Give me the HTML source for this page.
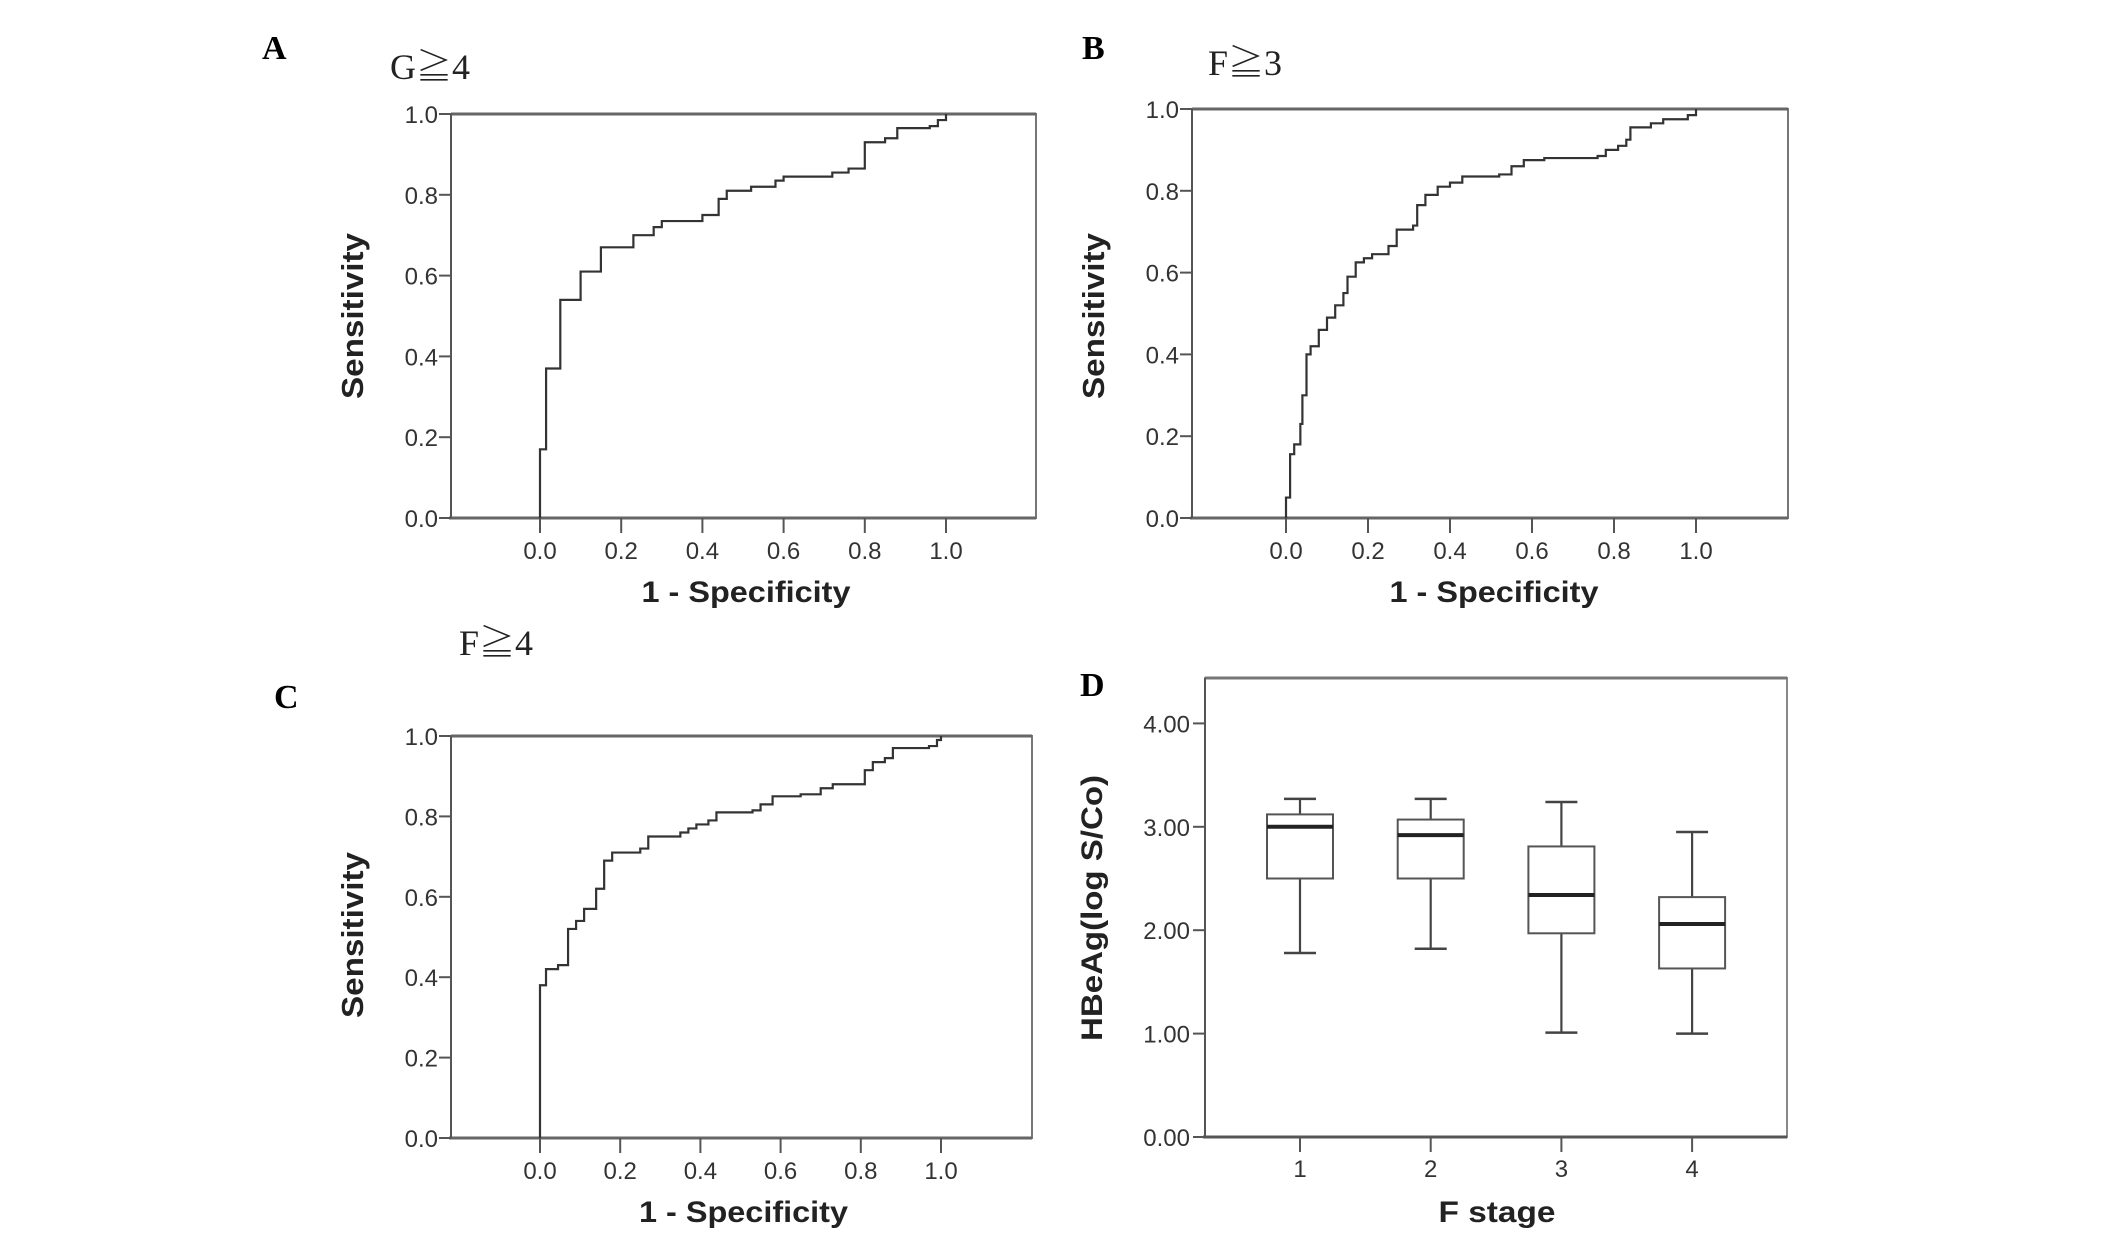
<!DOCTYPE html>
<html><head><meta charset="utf-8">
<style>
html,body{margin:0;padding:0;background:#fff;}
svg{display:block;}
.tk{font-family:"Liberation Sans",sans-serif;font-size:24px;fill:#333;}
.at{font-family:"Liberation Sans",sans-serif;font-weight:bold;fill:#222;}
.pl{font-family:"Liberation Serif",serif;font-weight:bold;font-size:34px;fill:#000;}
.tt{font-family:"Liberation Serif","Noto Serif CJK SC",serif;font-size:36px;fill:#222;}
</style></head>
<body>
<svg id="fig" width="2126" height="1238" viewBox="0 0 2126 1238" xmlns="http://www.w3.org/2000/svg">
<rect width="2126" height="1238" fill="#fff"/>
</svg>
<script>
// ROC data (step vertices: go horizontal to fpr, then vertical to tpr)
const rocA_fpr=[0,0.015,0.05,0.1,0.15,0.23,0.28,0.3,0.4,0.44,0.46,0.52,0.58,0.6,0.72,0.76,0.8,0.8,0.85,0.88,0.96,0.98,1.0];
const rocA_tpr=[0.17,0.37,0.54,0.61,0.67,0.70,0.72,0.735,0.75,0.79,0.81,0.82,0.835,0.845,0.855,0.865,0.88,0.93,0.94,0.965,0.97,0.985,1.0];
const rocB_fpr=[0,0.01,0.02,0.035,0.04,0.05,0.06,0.08,0.1,0.12,0.14,0.15,0.17,0.19,0.21,0.25,0.27,0.31,0.32,0.34,0.37,0.40,0.43,0.52,0.55,0.58,0.63,0.76,0.78,0.81,0.83,0.84,0.89,0.92,0.98,1.0];
const rocB_tpr=[0.05,0.156,0.18,0.23,0.30,0.40,0.42,0.46,0.49,0.52,0.55,0.59,0.625,0.635,0.645,0.665,0.705,0.715,0.765,0.79,0.81,0.82,0.835,0.84,0.86,0.875,0.88,0.885,0.9,0.91,0.925,0.955,0.965,0.975,0.985,1.0];
const rocC_fpr=[0,0.015,0.045,0.07,0.09,0.11,0.14,0.16,0.18,0.25,0.27,0.35,0.37,0.39,0.42,0.44,0.53,0.55,0.58,0.65,0.7,0.73,0.8,0.81,0.83,0.86,0.88,0.97,0.99,1.0];
const rocC_tpr=[0.38,0.42,0.43,0.52,0.54,0.57,0.62,0.69,0.71,0.72,0.75,0.76,0.77,0.78,0.79,0.81,0.815,0.83,0.85,0.855,0.87,0.88,0.88,0.915,0.935,0.945,0.97,0.975,0.99,1.0];
const rocTicks=["0.0","0.2","0.4","0.6","0.8","1.0"];
// Boxplot data (panel D)
const fStages=["1","2","3","4"];
const whiskLow=[1.78,1.82,1.01,1.00];
const q1=[2.50,2.50,1.97,1.63];
const med=[3.00,2.92,2.34,2.06];
const q3=[3.12,3.07,2.81,2.32];
const whiskHigh=[3.27,3.27,3.24,2.95];
const boxTicks=["0.00","1.00","2.00","3.00","4.00"];

const NS="http://www.w3.org/2000/svg";
const svg=document.getElementById('fig');
function mk(tag,attrs,parent){const e=document.createElementNS(NS,tag);for(const k in attrs)e.setAttribute(k,attrs[k]);(parent||svg).appendChild(e);return e;}

function roc(p){
  const g=mk('g',{});
  
  
  const sx=v=>p.x0+(p.x1-p.x0)*v;
  const sy=v=>p.yb+(p.yt-p.yb)*v;
  const fr=mk('rect',{x:p.L,y:p.yt,width:p.R-p.L,height:p.yb-p.yt,fill:'none',stroke:'#777','stroke-width':2},g);
  
  
  mk('line',{x1:p.L,y1:p.yt,x2:p.R,y2:p.yt,stroke:'#666','stroke-width':3},g);
  mk('line',{x1:p.L-2,y1:p.yb,x2:p.R,y2:p.yb,stroke:'#666','stroke-width':3},g);
  mk('line',{x1:p.L,y1:p.yt,x2:p.L,y2:p.yb,stroke:'#555','stroke-width':2},g);
  for(let i=0;i<rocTicks.length;i++){
    const v=i/5;
    mk('line',{x1:p.L-12,y1:sy(v),x2:p.L,y2:sy(v),stroke:'#555','stroke-width':2},g);
    const t=mk('text',{x:p.L-13,y:sy(v)+9,'text-anchor':'end',class:'tk'},g);t.textContent=rocTicks[i];
    
    
    mk('line',{x1:sx(v),y1:p.yb,x2:sx(v),y2:p.yb+15,stroke:'#555','stroke-width':2},g);
    const u=mk('text',{x:sx(v),y:p.yb+41,'text-anchor':'middle',class:'tk'},g);u.textContent=rocTicks[i];
    
    
  }
  let d='M'+sx(0)+','+sy(0);let py=0;
  for(let i=0;i<p.fpr.length;i++){d+=' L'+sx(p.fpr[i])+','+sy(py)+' L'+sx(p.fpr[i])+','+sy(p.tpr[i]);py=p.tpr[i];}
  const c=mk('path',{d:d,fill:'none',stroke:'#333','stroke-width':2.2},g);
  
  
  const xt=mk('text',{x:(p.x0+p.x1)/2+3,y:p.yb+84,'text-anchor':'middle',class:'at','font-size':30,textLength:209,lengthAdjust:'spacingAndGlyphs'},g);xt.textContent='1 - Specificity';
  
  
  const yt=mk('text',{x:0,y:0,'text-anchor':'middle',class:'at','font-size':31,textLength:166,lengthAdjust:'spacingAndGlyphs',transform:'translate('+(p.L-88)+','+p.ymid+') rotate(-90)'},g);yt.textContent='Sensitivity';
  
  
  const pl=mk('text',{x:p.lx,y:p.ly,class:'pl'},g);pl.textContent=p.letter;
  
  
  const tt=mk('text',{x:p.tx,y:p.ty,class:'tt'},g);tt.textContent=p.title;
  
  
}
roc({name:'roc-panel-a',L:451,R:1036,yt:114,yb:518,x0:540,x1:946,fpr:rocA_fpr,tpr:rocA_tpr,ymid:316,letter:'A',lx:262,ly:59,title:'G≧4',tx:390,ty:79});
roc({name:'roc-panel-b',L:1192,R:1788,yt:109,yb:518,x0:1286,x1:1696,fpr:rocB_fpr,tpr:rocB_tpr,ymid:316,letter:'B',lx:1082,ly:59,title:'F≧3',tx:1208,ty:75});
roc({name:'roc-panel-c',L:451,R:1032,yt:736,yb:1138,x0:540,x1:941,fpr:rocC_fpr,tpr:rocC_tpr,ymid:935,letter:'C',lx:274,ly:708,title:'F≧4',tx:459,ty:655});

// Panel D boxplot
(function(){
  const g=mk('g',{});
  
  
  const L=1205,R=1787,T=678,B=1137,unit=103.4;
  const sy=v=>B-v*unit;
  const sx=i=>1300+i*130.7;
  const fr=mk('rect',{x:L,y:T,width:R-L,height:B-T,fill:'none',stroke:'#888','stroke-width':2},g);
  
  
  mk('line',{x1:L,y1:T,x2:R,y2:T,stroke:'#777','stroke-width':3},g);
  mk('line',{x1:L-2,y1:B,x2:R,y2:B,stroke:'#555','stroke-width':3},g);
  mk('line',{x1:L,y1:T,x2:L,y2:B,stroke:'#555','stroke-width':2},g);
  for(let i=0;i<boxTicks.length;i++){
    mk('line',{x1:L-12,y1:sy(i),x2:L,y2:sy(i),stroke:'#555','stroke-width':2},g);
    const t=mk('text',{x:L-15,y:sy(i)+9,'text-anchor':'end',class:'tk'},g);t.textContent=boxTicks[i];
    
    
  }
  for(let i=0;i<fStages.length;i++){
    const cx=sx(i);
    mk('line',{x1:cx,y1:B,x2:cx,y2:B+15,stroke:'#555','stroke-width':2},g);
    const t=mk('text',{x:cx,y:B+40,'text-anchor':'middle',class:'tk'},g);t.textContent=fStages[i];
    
    
    const bg=mk('g',{},g);
    
    
    mk('line',{x1:cx,y1:sy(whiskHigh[i]),x2:cx,y2:sy(q3[i]),stroke:'#444','stroke-width':2.2},bg);
    mk('line',{x1:cx,y1:sy(q1[i]),x2:cx,y2:sy(whiskLow[i]),stroke:'#444','stroke-width':2.2},bg);
    mk('line',{x1:cx-16,y1:sy(whiskHigh[i]),x2:cx+16,y2:sy(whiskHigh[i]),stroke:'#444','stroke-width':2.5},bg);
    mk('line',{x1:cx-16,y1:sy(whiskLow[i]),x2:cx+16,y2:sy(whiskLow[i]),stroke:'#444','stroke-width':2.5},bg);
    mk('rect',{x:cx-33,y:sy(q3[i]),width:66,height:sy(q1[i])-sy(q3[i]),fill:'#fff',stroke:'#555','stroke-width':2},bg);
    mk('line',{x1:cx-33,y1:sy(med[i]),x2:cx+33,y2:sy(med[i]),stroke:'#222','stroke-width':4},bg);
  }
  const xt=mk('text',{x:1497,y:1222,'text-anchor':'middle',class:'at','font-size':30,textLength:117,lengthAdjust:'spacingAndGlyphs'},g);xt.textContent='F stage';
  
  
  const yt=mk('text',{x:0,y:0,'text-anchor':'middle',class:'at','font-size':30,textLength:266,lengthAdjust:'spacingAndGlyphs',transform:'translate(1102,908) rotate(-90)'},g);yt.textContent='HBeAg(log S/Co)';
  
  
  const pl=mk('text',{x:1080,y:696,class:'pl'},g);pl.textContent='D';
  
  
})();
</script>
</body></html>
